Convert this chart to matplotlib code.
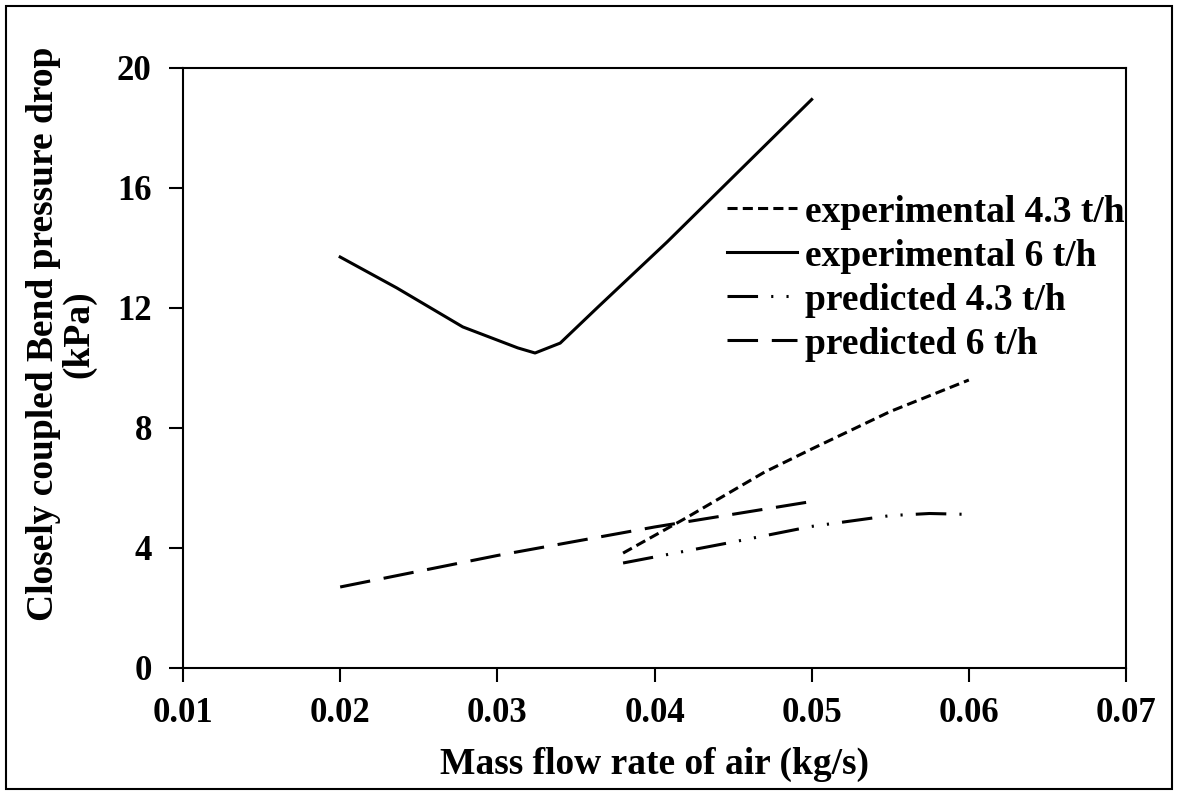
import matplotlib
matplotlib.use("Agg")
import matplotlib.pyplot as plt
from matplotlib.patches import Rectangle

plt.rcParams['font.family'] = ['Liberation Serif', 'DejaVu Serif']
plt.rcParams['font.weight'] = 'bold'

x_exp43 = [0.038, 0.042, 0.047, 0.050, 0.055, 0.060]
y_exp43 = [3.83, 5.0, 6.53, 7.3, 8.55, 9.6]
x_exp6 = [0.020, 0.0236, 0.0278, 0.0313, 0.0324, 0.0340, 0.0364, 0.0408, 0.050]
y_exp6 = [13.7, 12.67, 11.37, 10.67, 10.5, 10.83, 12.03, 14.2, 18.95]
x_pre43 = [0.038, 0.045, 0.050, 0.055, 0.0575, 0.060]
y_pre43 = [3.5, 4.2, 4.72, 5.08, 5.15, 5.12]
x_pre6 = [0.020, 0.030, 0.040, 0.050]
y_pre6 = [2.7, 3.75, 4.7, 5.55]

fig = plt.figure(figsize=(11.77, 7.92), dpi=100)
ax = fig.add_axes([183/1177, 1-668/792, (1126-183)/1177, (668-68)/792])

lw = 2.2
ax.plot(x_exp43, y_exp43, color='black', lw=lw, linestyle=(0, (3.3, 1.7)),
        label='experimental 4.3 t/h')
ax.plot(x_exp6, y_exp6, color='black', lw=lw, linestyle='-', solid_joinstyle='round',
        label='experimental 6 t/h')
ax.plot(x_pre43, y_pre43, color='black', lw=lw,
        linestyle=(0, (10, 4.3, 0.7, 4.3, 0.7, 4.3)), label='predicted 4.3 t/h')
ax.plot(x_pre6, y_pre6, color='black', lw=lw, linestyle=(0, (10, 4.5)),
        label='predicted 6 t/h')

ax.set_xlim(0.01, 0.07)
ax.set_ylim(0, 20)
ax.set_xticks([0.01, 0.02, 0.03, 0.04, 0.05, 0.06, 0.07])
ax.set_xticklabels(['0.01', '0.02', '0.03', '0.04', '0.05', '0.06', '0.07'])
ax.set_yticks([0, 4, 8, 12, 16, 20])
for s in ax.spines.values():
    s.set_linewidth(1.5)
ax.tick_params(direction='out', length=10, width=1.5, labelsize=25)
ax.tick_params(axis='x', pad=11)
ax.tick_params(axis='y', pad=12.5)
for t in ax.get_xticklabels() + ax.get_yticklabels():
    t.set_fontweight('bold')

ax.set_xlabel('Mass flow rate of air (kg/s)', fontsize=27, fontweight='bold', labelpad=12)
ax.set_ylabel('Closely coupled Bend pressure drop\n(kPa)', fontsize=27, fontweight='bold',
              linespacing=1.0)
ax.yaxis.set_label_coords(-0.092, 0.557)

leg = ax.legend(loc='upper left', bbox_to_anchor=(0.577, 0.789), frameon=False,
                fontsize=27, handlelength=1.87, handletextpad=0.2, labelspacing=0.24,
                borderaxespad=0, borderpad=0)
for t in leg.get_texts():
    t.set_fontweight('bold')

fig.patches.append(Rectangle((6/1177, 3/792), 1166/1177, 783/792, transform=fig.transFigure,
                             fill=False, edgecolor='black', lw=1.5))

fig.savefig('out.png', dpi=100)
